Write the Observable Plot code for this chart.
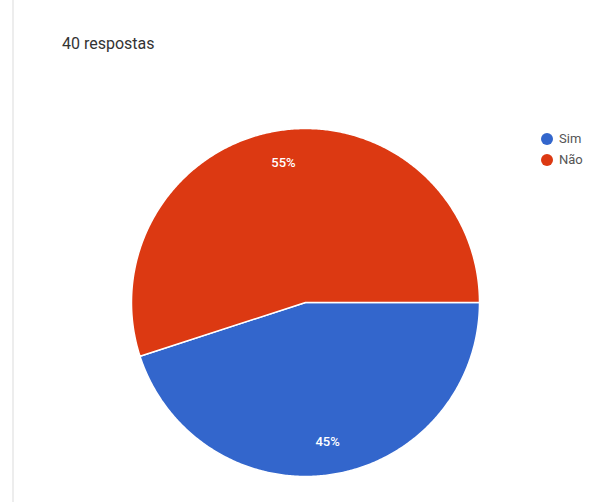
<!DOCTYPE html>
<html><head><meta charset="utf-8">
<script src="https://cdn.jsdelivr.net/npm/d3@7"></script>
<script src="https://cdn.jsdelivr.net/npm/@observablehq/plot@0.6"></script>
<style>
body{margin:0;background:#fff;font-family:Roboto, "Noto Sans", sans-serif;}
#wrap{position:relative;width:607px;height:502px;overflow:hidden;background:#fff}
#chart{position:absolute;left:0;top:0}
#border{position:absolute;left:12px;top:0;width:2px;height:502px;background:#ededed}
#title{position:absolute;left:62px;top:34px;font-size:16px;color:#333;white-space:nowrap}
#legend{position:absolute;left:541px;top:128px;font-size:13px;color:#555}
.item{display:flex;align-items:center;height:21px}
.sw{width:12px;height:12px;border-radius:50%;margin-right:6px}
</style></head>
<body>
<div id="wrap">
  <div id="border"></div>
  <div id="chart"></div>
  <div id="title"></div>
  <div id="legend"></div>
</div>
<script>
const titleText = "40 respostas";
const categories = ["Sim", "Não"];
const counts = [18, 22];
const labels = ["45%", "55%"];
const colors = ["#3366cc", "#dc3912"];

const W = 607, H = 502, cx = 305, cy = 302, R = 174;
const startDeg = 90; // first slice starts at 3 o'clock, clockwise
const total = d3.sum(counts);

const pts = [];
const slices = [];
let a = startDeg;
categories.forEach((c, i) => {
  const span = counts[i] / total * 360;
  const a0 = a, a1 = a + span;
  pts.push({cat: c, x: 0, y: 0});
  const n = Math.ceil(span * 2);
  for (let k = 0; k <= n; k++) {
    const t = (a0 + (a1 - a0) * k / n) * Math.PI / 180;
    pts.push({cat: c, x: Math.sin(t), y: Math.cos(t)});
  }
  pts.push({cat: c, x: 0, y: 0});
  const m = (a0 + a1) / 2 * Math.PI / 180;
  slices.push({cat: c, label: labels[i], x: 0.81 * Math.sin(m), y: 0.81 * Math.cos(m)});
  a = a1;
});

const plot = Plot.plot({
  width: W, height: H,
  marginLeft: cx - R, marginRight: W - cx - R,
  marginTop: cy - R, marginBottom: H - cy - R,
  x: {domain: [-1, 1], axis: null},
  y: {domain: [-1, 1], axis: null},
  color: {domain: categories, range: colors},
  style: {background: "transparent", fontFamily: "Roboto, sans-serif"},
  marks: [
    Plot.line(pts, {x: "x", y: "y", z: "cat", fill: "cat", stroke: "white", strokeWidth: 1.5, strokeLinejoin: "round", curve: "linear"}),
    Plot.text(slices, {x: "x", y: "y", text: "label", fill: "white", fontSize: 13, fontWeight: 500})
  ]
});
document.getElementById("chart").appendChild(plot);
document.getElementById("title").textContent = titleText;
const lg = document.getElementById("legend");
categories.forEach((c, i) => {
  const it = document.createElement("div"); it.className = "item";
  const sw = document.createElement("div"); sw.className = "sw"; sw.style.background = colors[i];
  const tx = document.createElement("span"); tx.textContent = c;
  it.appendChild(sw); it.appendChild(tx); lg.appendChild(it);
});
</script>
</body></html>
